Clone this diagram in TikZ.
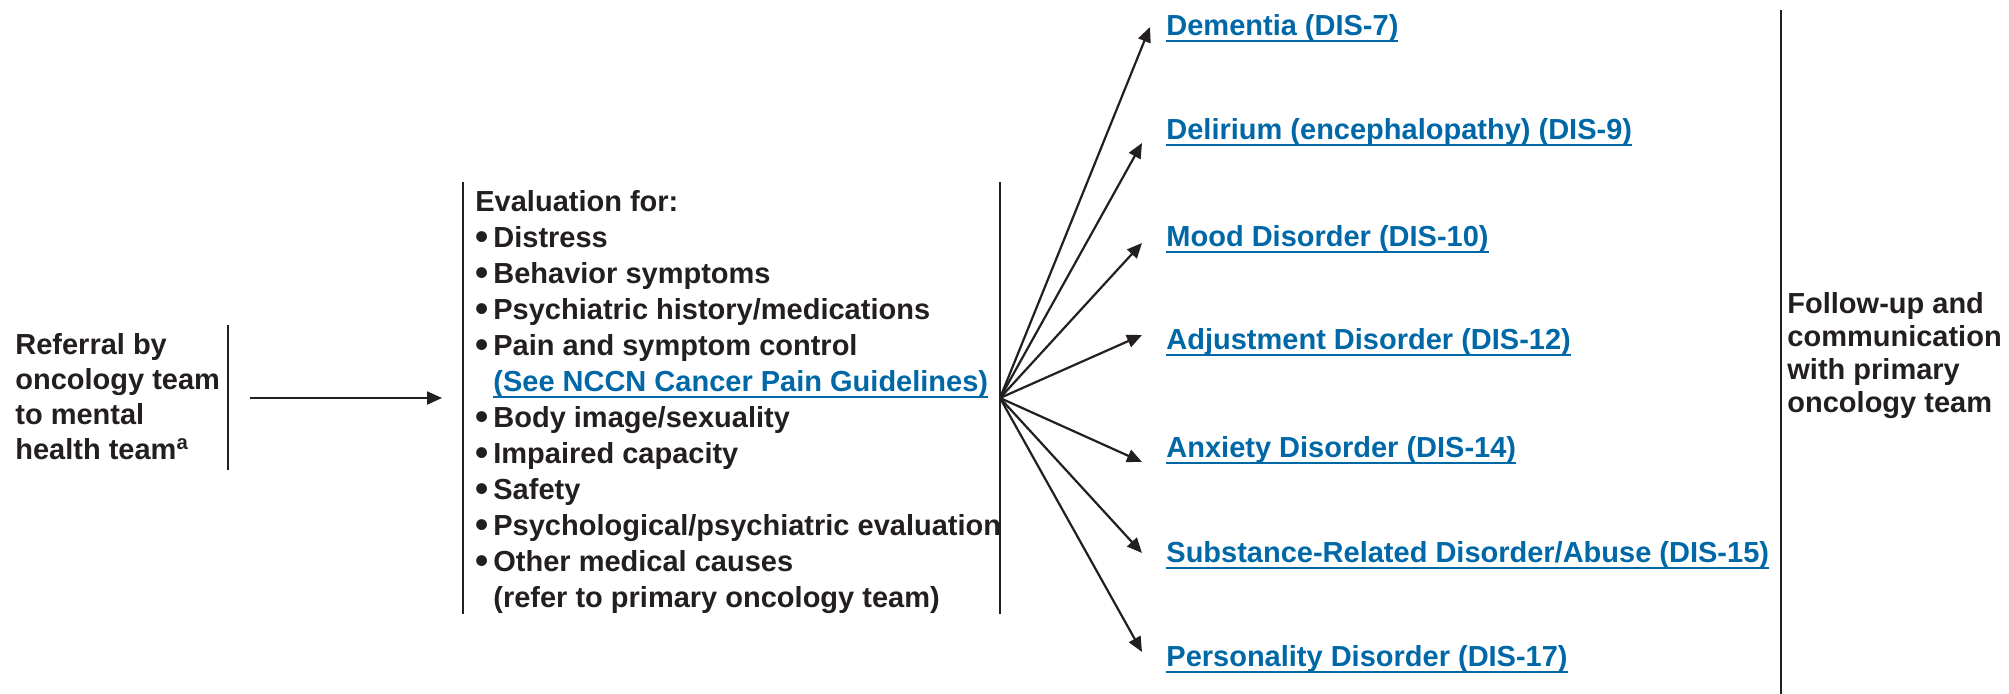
\documentclass[tikz,border=0pt]{standalone}
\usepackage{fontspec}
\setmainfont{Liberation Sans}
\usetikzlibrary{arrows.meta}

\definecolor{nccnblue}{RGB}{0,104,166}
\definecolor{inkblack}{RGB}{35,31,32}

\newcommand{\bodyfont}{\fontsize{14.5}{18}\selectfont\bfseries}
\newcommand{\bul}{\makebox[9pt][l]{\raisebox{-0.6pt}{\scalebox{1.3}{\textbullet}}}}
\newsavebox{\lnkbox}
\newcommand{\lnk}[1]{\sbox{\lnkbox}{#1}\rlap{\rule[-3.1pt]{\wd\lnkbox}{1pt}}\usebox{\lnkbox}}

\begin{document}
\begin{tikzpicture}[x=0.5pt,y=-0.5pt,
  every node/.style={inner sep=0pt, text=inkblack, font=\bodyfont},
  link/.style={anchor=base west, text=nccnblue},
  bar/.style={draw=inkblack, line width=1.2pt},
  arr/.style={draw=inkblack, line width=1.1pt, -{Triangle[length=7.5pt,width=6.5pt]}},
]
\useasboundingbox (0,0) rectangle (2009,694);

% referral (anchored at the baseline of its last line)
\node[anchor=base west, align=left, font=\fontsize{14.5}{17.5}\selectfont\bfseries] (referral) at (15,460)
  {Referral by\\oncology team\\to mental\\health team\textsuperscript{a}};
\draw[bar] (228,325) -- (228,470);
\coordinate (refout) at (250,398);
\coordinate (evalin) at (442,398);
\draw[arr] (refout) -- (evalin);

% evaluation
\draw[bar] (463,182) -- (463,614);
\draw[bar] (1000,182) -- (1000,614);
\node[anchor=base west, align=left] (eval) at (475,608)
  {Evaluation for:\\
   \bul Distress\\
   \bul Behavior symptoms\\
   \bul Psychiatric history/medications\\
   \bul Pain and symptom control\\
   \hspace*{9pt}{\color{nccnblue}\lnk{(See NCCN Cancer Pain Guidelines)}}\\
   \bul Body image/sexuality\\
   \bul Impaired capacity\\
   \bul Safety\\
   \bul Psychological/psychiatric evaluation\\
   \bul Other medical causes\\
   \hspace*{9pt}(refer to primary oncology team)};

% diagnoses
\node[link] (dem)  at (1166,36)  {\lnk{Dementia (DIS-7)}};
\node[link] (del)  at (1166,140) {\lnk{Delirium (encephalopathy) (DIS-9)}};
\node[link] (mood) at (1166,247) {\lnk{Mood Disorder (DIS-10)}};
\node[link] (adj)  at (1166,350) {\lnk{Adjustment Disorder (DIS-12)}};
\node[link] (anx)  at (1166,458) {\lnk{Anxiety Disorder (DIS-14)}};
\node[link] (sub)  at (1166,563) {\lnk{Substance-Related Disorder/Abuse (DIS-15)}};
\node[link] (pers) at (1166,667) {\lnk{Personality Disorder (DIS-17)}};

\coordinate (fan) at (1000,398);
\foreach \n/\x/\y in {dem/1150/27, del/1142/143, mood/1142/243, adj/1142/335,
                      anx/1142/462, sub/1142/553, pers/1142/652}
  \coordinate (tip-\n) at (\x,\y);
\foreach \n in {dem,del,mood,adj,anx,sub,pers}
  \draw[arr] (fan) -- (tip-\n);

% follow-up
\draw[bar] (1781,10) -- (1781,694);
\node[anchor=base west, align=left, font=\fontsize{14.5}{16.5}\selectfont\bfseries] (followup) at (1787,413)
  {Follow-up and\\communication\\with primary\\oncology team};
\end{tikzpicture}
\end{document}
